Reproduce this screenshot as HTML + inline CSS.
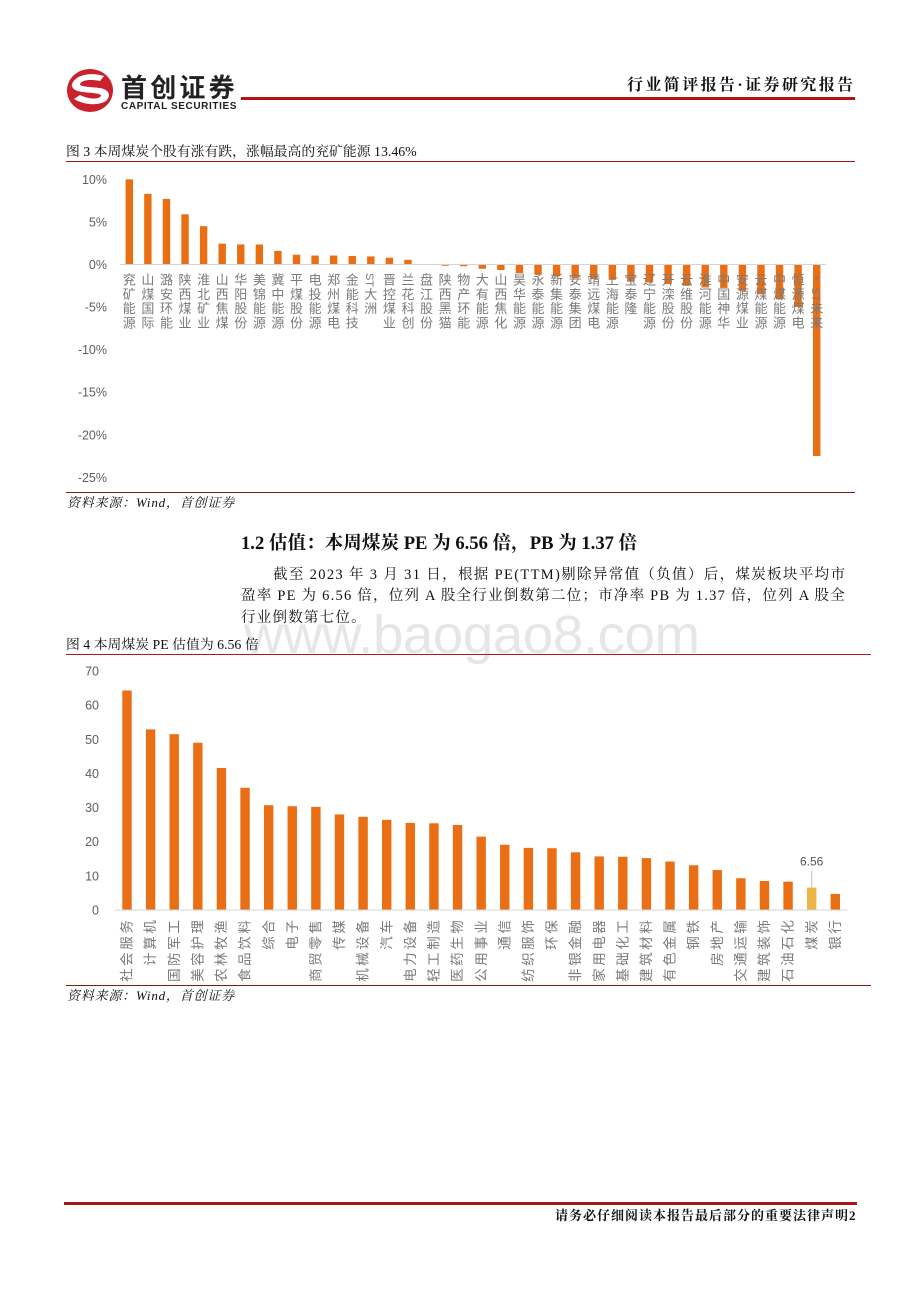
<!DOCTYPE html>
<html lang="zh">
<head>
<meta charset="utf-8">
<title>行业简评报告</title>
<style>
html,body{margin:0;padding:0;background:#fff;}
#page{position:relative;width:920px;height:1302px;overflow:hidden;background:#fff;font-family:"Liberation Serif","Noto Serif CJK SC",serif;color:#111;}
.abs{position:absolute;white-space:nowrap;}
.rule{position:absolute;}
svg{position:absolute;left:0;top:0;}
</style>
</head>
<body>
<div id="page">
  <svg width="920" height="130">
    <ellipse cx="90" cy="90.500" rx="23" ry="21.500" fill="#c8232c"/>
    <path d="M72 84 C76 74 92 72 104 76 L100 81 C90 79 82 80 80 84 C80 87 92 87 100 88 C110 90 111 96 106 101 C98 106 84 105 74 99 L80 95 C88 99 98 100 101 96 C102 93 90 93 82 92 C75 91 71 88 72 84 Z" fill="#fff"/>
    <text x="121" y="97" font-family="'Liberation Sans','Noto Sans CJK SC',sans-serif" font-size="26" font-weight="700" fill="#222" letter-spacing="3.200">首创证券</text>
    <text x="121" y="109" font-family="'Liberation Sans',sans-serif" font-size="10" font-weight="700" fill="#222" letter-spacing="0.600">CAPITAL SECURITIES</text>
  </svg>
  <div class="abs" style="left:627px;top:75px;font-size:16px;line-height:22px;font-weight:700;letter-spacing:2.400px;">行业简评报告·证券研究报告</div>
  <div class="rule" style="left:241px;top:96.500px;width:614px;height:3px;background:#b51218;"></div>

  <div class="abs" style="left:66px;top:143px;font-size:13.850px;line-height:18px;">图 3 本周煤炭个股有涨有跌，涨幅最高的兖矿能源 13.46%</div>
  <div class="rule" style="left:66px;top:161px;width:789px;height:1px;background:#a3151a;"></div>

  <svg id="chart3" width="920" height="500"></svg>

  <div class="rule" style="left:66px;top:491.500px;width:789px;height:1.500px;background:#7a1f14;"></div>
  <div class="abs" style="left:67px;top:494px;font-size:13px;line-height:18px;font-style:italic;letter-spacing:.8px;">资料来源：Wind，首创证券</div>

  <div class="abs" style="left:241px;top:533px;font-size:18.600px;line-height:22px;font-weight:700;">1.2 估值：本周煤炭 PE 为 6.56 倍，PB 为 1.37 倍</div>
  <div class="abs" style="left:273px;top:565px;font-size:14.500px;line-height:20px;letter-spacing:1.340px;">截至 2023 年 3 月 31 日，根据 PE(TTM)剔除异常值（负值）后，煤炭板块平均市</div>
  <div class="abs" style="left:241px;top:586px;font-size:14.500px;line-height:20px;letter-spacing:1.230px;">盈率 PE 为 6.56 倍，位列 A 股全行业倒数第二位；市净率 PB 为 1.37 倍，位列 A 股全</div>
  <div class="abs" style="left:241px;top:608px;font-size:14.500px;line-height:20px;letter-spacing:1.230px;">行业倒数第七位。</div>

  <div class="abs" style="left:244px;top:604px;font-family:'Liberation Sans',sans-serif;font-size:54px;line-height:62px;color:#e6e6e6;letter-spacing:-.4px;transform:scaleX(1.012);transform-origin:left;">www.baogao8.com</div>

  <div class="abs" style="left:66px;top:636px;font-size:13.850px;line-height:18px;">图 4 本周煤炭 PE 估值为 6.56 倍</div>
  <div class="rule" style="left:66px;top:654px;width:805px;height:1px;background:#b3161b;"></div>

  <svg id="chart4" width="920" height="1000"></svg>

  <div class="rule" style="left:66px;top:984.500px;width:805px;height:1.500px;background:#7a1f14;"></div>
  <div class="abs" style="left:67px;top:987px;font-size:13px;line-height:18px;font-style:italic;letter-spacing:.8px;">资料来源：Wind，首创证券</div>

  <div class="rule" style="left:64px;top:1202px;width:793px;height:3px;background:#a8161a;"></div>
  <div class="abs" style="left:555px;top:1207px;font-size:13px;line-height:18px;font-weight:700;letter-spacing:1px;">请务必仔细阅读本报告最后部分的重要法律声明2</div>
</div>

<script>
var NS = 'http://www.w3.org/2000/svg';

/* ---------- Figure 3 data ---------- */
var stockNames = ['兖矿能源','山煤国际','潞安环能','陕西煤业','淮北矿业','山西焦煤','华阳股份','美锦能源','冀中能源','平煤股份','电投能源','郑州煤电','金能科技','ST大洲','晋控煤业','兰花科创','盘江股份','陕西黑猫','物产环能','大有能源','山西焦化','昊华能源','永泰能源','新集能源','安泰集团','靖远煤电','上海能源','宝泰隆','辽宁能源','开滦股份','云维股份','淮河能源','中国神华','安源煤业','云煤能源','中煤能源','恒源煤电','*ST未来'];
var stockChanges = [10.0,8.3,7.7,5.9,4.5,2.45,2.35,2.35,1.6,1.15,1.05,1.05,1.0,0.95,0.8,0.55,0.02,-0.15,-0.2,-0.5,-0.65,-1.0,-1.2,-1.4,-1.6,-1.7,-1.8,-2.0,-2.1,-2.3,-2.5,-2.7,-2.75,-3.1,-3.5,-4.1,-5.0,-22.5];
var changeTicks = [10,5,0,-5,-10,-15,-20,-25];

/* ---------- Figure 4 data ---------- */
var industryNames = ['社会服务','计算机','国防军工','美容护理','农林牧渔','食品饮料','综合','电子','商贸零售','传媒','机械设备','汽车','电力设备','轻工制造','医药生物','公用事业','通信','纺织服饰','环保','非银金融','家用电器','基础化工','建筑材料','有色金属','钢铁','房地产','交通运输','建筑装饰','石油石化','煤炭','银行'];
var industryPE = [64.3,52.9,51.5,49.0,41.6,35.8,30.7,30.4,30.2,28.0,27.3,26.4,25.5,25.4,24.9,21.5,19.1,18.2,18.1,16.9,15.7,15.6,15.2,14.2,13.1,11.7,9.3,8.5,8.3,6.56,4.7];
var peTicks = [70,60,50,40,30,20,10,0];
var highlightIndustry = '煤炭';

var BAR_COLOR = '#ea6f14';
var HIGHLIGHT_COLOR = '#ecb548';
var LABEL_COLOR = '#7a7a7a';
var TICK_COLOR = '#5f5f5f';
var AXIS_COLOR = '#d4d4d4';
var CJK_FONT = '"Liberation Sans","Noto Sans CJK SC",sans-serif';

function make(tag, attrs, parent) {
  var el = document.createElementNS(NS, tag);
  for (var k in attrs) { el.setAttribute(k, attrs[k]); }
  parent.appendChild(el);
  return el;
}

/* ---------- Figure 3 axes ---------- */
function y3(v) { return 264.5 - v * 8.514; }
function x3(i) { return 129.3 + i * (816.7 - 129.3) / (stockNames.length - 1); }

function drawChart3() {
  var svg = document.getElementById('chart3');
  changeTicks.forEach(function (t) {
    var el = make('text', {x: 107, y: y3(t) + 4.5, 'text-anchor': 'end', 'font-family': CJK_FONT, 'font-size': 12.5, fill: TICK_COLOR}, svg);
    
    
    el.textContent = t + '%';
  });
  stockChanges.forEach(function (v, i) {
    var top = Math.min(y3(v), y3(0));
    var h = Math.abs(y3(v) - y3(0));
    var bar = make('rect', {x: x3(i) - 3.7, y: top, width: 7.4, height: h, fill: BAR_COLOR}, svg);
    
    
  });
  var axis = make('line', {x1: 120, x2: 826, y1: y3(0), y2: y3(0), stroke: AXIS_COLOR, 'stroke-width': 1}, svg);
  
  
  stockNames.forEach(function (name, i) {
    var units = name.match(/ST|\*|[^*S]/g);
    var group = make('g', {}, svg);
    
    
    units.forEach(function (u, j) {
      var cy = 280 + j * 14.25;
      var text = make('text', {x: x3(i), y: cy + 4.7, 'text-anchor': 'middle', 'font-family': CJK_FONT, 'font-size': 13, fill: LABEL_COLOR}, group);
      if (u === 'ST') {
        text.setAttribute('transform', 'rotate(90 ' + x3(i) + ' ' + cy + ')');
        text.setAttribute('font-size', 11);
      }
      text.textContent = u;
    });
  });
}

/* ---------- Figure 4 axes ---------- */
function y4(v) { return 910 - v * 3.414; }
function x4(i) { return 127 + i * (835.3 - 127) / (industryNames.length - 1); }

function drawChart4() {
  var svg = document.getElementById('chart4');
  peTicks.forEach(function (t) {
    var el = make('text', {x: 99, y: y4(t) + 4.5, 'text-anchor': 'end', 'font-family': CJK_FONT, 'font-size': 12.5, fill: TICK_COLOR}, svg);
    
    
    el.textContent = t;
  });
  industryPE.forEach(function (v, i) {
    var isHi = industryNames[i] === highlightIndustry;
    var bar = make('rect', {x: x4(i) - 4.7, y: y4(v), width: 9.4, height: y4(0) - y4(v), fill: isHi ? HIGHLIGHT_COLOR : BAR_COLOR}, svg);
    
    
    if (isHi) {
      var leader = make('line', {x1: x4(i), x2: x4(i), y1: y4(v) - 17, y2: y4(v), stroke: '#bdbdbd', 'stroke-width': 1}, svg);
      
      
      var val = make('text', {x: x4(i), y: y4(v) - 22, 'text-anchor': 'middle', 'font-family': CJK_FONT, 'font-size': 12, fill: '#555'}, svg);
      
      
      val.textContent = v;
    }
  });
  var axis = make('line', {x1: 115, x2: 847, y1: y4(0), y2: y4(0), stroke: AXIS_COLOR, 'stroke-width': 1}, svg);
  
  
  industryNames.forEach(function (name, i) {
    var px = x4(i) + 4.6;
    var label = make('text', {x: px, y: 917.5, 'text-anchor': 'end', 'font-family': CJK_FONT, 'font-size': 13.5, 'letter-spacing': 2.6, fill: LABEL_COLOR, transform: 'rotate(-90 ' + px + ' 917.5)'}, svg);
    
    
    label.textContent = name;
  });
}

drawChart3();
drawChart4();
</script>
</body>
</html>
